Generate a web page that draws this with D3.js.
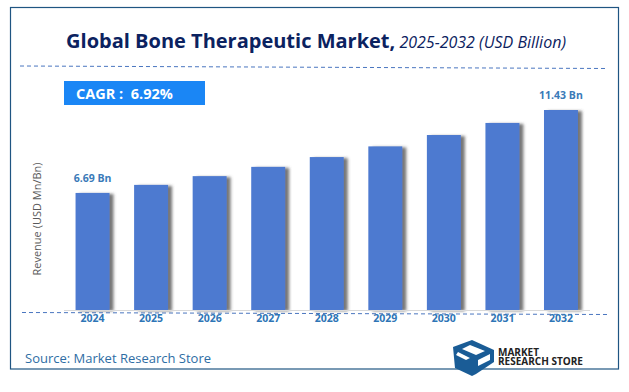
<!DOCTYPE html>
<html>
<head>
<meta charset="utf-8">
<script src="https://cdn.jsdelivr.net/npm/d3@7"></script>
<style>
  html, body { margin: 0; padding: 0; background: #fff; }
  svg { display: block; font-family: "Open Sans", sans-serif; }
</style>
</head>
<body>
<div id="chart"></div>
<script>
var years = ["2024", "2025", "2026", "2027", "2028", "2029", "2030", "2031", "2032"];
var revenue = [6.69, 7.15, 7.65, 8.18, 8.74, 9.35, 10.0, 10.69, 11.43];
var barLabels = { "2024": "6.69 Bn", "2032": "11.43 Bn" };

var width = 629, height = 392;
var svg = d3.select("#chart").append("svg").attr("width", width).attr("height", height);

var defs = svg.append("defs");
var shadow = defs.append("filter").attr("id", "barshadow")
  .attr("x", "-10%").attr("y", "-5%").attr("width", "130%").attr("height", "110%");
shadow.append("feDropShadow").attr("dx", 4).attr("dy", 1).attr("stdDeviation", 1.6)
  .attr("flood-color", "#555").attr("flood-opacity", 0.8);

// outer frame
svg.append("rect").attr("x", 10.5).attr("y", 7.5).attr("width", 608).attr("height", 384 - 300 + 300 - 100 + 0)
  .attr("fill", "none").attr("stroke", "#1f5582").attr("stroke-width", 1.2).attr("height", 376 - 7.5 - 7);

// title
var title = svg.append("text").attr("x", 316).attr("y", 48).attr("text-anchor", "middle").attr("fill", "#0b2260");
title.append("tspan").attr("font-size", 20).attr("font-weight", 700).text("Global Bone Therapeutic Market,");
title.append("tspan").attr("font-size", 16).attr("font-style", "italic").text(" 2025-2032 (USD Billion)");

// dashed rules
svg.append("line").attr("x1", 20).attr("y1", 66).attr("x2", 607).attr("y2", 68.5)
  .attr("stroke", "#4a76c0").attr("stroke-width", 1).attr("stroke-dasharray", "4 3");
svg.append("line").attr("x1", 22).attr("y1", 312.5).attr("x2", 607).attr("y2", 314.5)
  .attr("stroke", "#4a76c0").attr("stroke-width", 1).attr("stroke-dasharray", "4 3");

// cagr badge
svg.append("rect").attr("x", 64).attr("y", 81).attr("width", 141).attr("height", 24).attr("fill", "#1a86f5");
svg.append("text").attr("x", 76).attr("y", 98.5).attr("fill", "#fff").attr("font-size", 14.5).attr("font-weight", 700)
  .attr("xml:space", "preserve").text("CAGR :  6.92%");

var xScale = d3.scaleBand().domain(years).range([63.25, 590.25]).paddingInner(0.42).paddingOuter(0.21);
var yScale = d3.scaleLinear().domain([0, 11.43]).range([310, 110]);

svg.append("g").selectAll("rect").data(years).enter().append("rect")
  .attr("x", function(d) { return xScale(d); })
  .attr("y", function(d, i) { return yScale(revenue[i]); })
  .attr("width", xScale.bandwidth())
  .attr("height", function(d, i) { return yScale(0) - yScale(revenue[i]); })
  .attr("fill", "#4d7ad0")
  .attr("filter", "url(#barshadow)");

// thin baseline over the shadow ends
svg.append("line").attr("x1", 64).attr("y1", 310.5).attr("x2", 590).attr("y2", 310.5)
  .attr("stroke", "#d9d9d9").attr("stroke-width", 1);

svg.append("g").selectAll("text").data(years.filter(function(d) { return barLabels[d]; })).enter().append("text")
  .attr("x", function(d) { return xScale(d) + xScale.bandwidth() / 2; })
  .attr("y", function(d) { return yScale(revenue[years.indexOf(d)]) - 11; })
  .attr("text-anchor", "middle").attr("fill", "#3a7ab8").attr("font-size", 10.5).attr("font-weight", 700)
  .text(function(d) { return barLabels[d]; });

var xAxis = svg.append("g").attr("transform", "translate(0,310)")
  .call(d3.axisBottom(xScale).tickSize(0).tickPadding(5));
xAxis.select(".domain").remove();
xAxis.selectAll("text").attr("fill", "#2e75b6").attr("font-size", 10.5).attr("font-weight", 700)
  .attr("font-family", '"Open Sans", sans-serif');

svg.append("text").attr("transform", "translate(41,219) rotate(-90)").attr("text-anchor", "middle")
  .attr("fill", "#595959").attr("font-size", 11).text("Revenue (USD Mn/Bn)");

svg.append("text").attr("x", 25).attr("y", 363).attr("fill", "#2e6da4").attr("font-size", 13)
  .text("Source: Market Research Store");

// logo
var logo = svg.append("g");
logo.append("path").attr("d", "M453 347 L472 340 L494 350 L494 362 L476 374 L472 376 L455 368 Z").attr("fill", "#1a5c96");
logo.append("path").attr("d", "M470 345 L485 351 L476 355 L462 349 Z M458 352 L470 358 L466 360 L456 355 Z M478 360 L490 354 L490 360 L478 366 Z").attr("fill", "#fff");
logo.append("text").attr("x", 498).attr("y", 355.5).attr("fill", "#222").attr("font-size", 10).attr("font-weight", 700).text("MARKET");
logo.append("text").attr("x", 498).attr("y", 365).attr("fill", "#222").attr("font-size", 10).attr("font-weight", 700).text("RESEARCH STORE");
</script>
</body>
</html>
